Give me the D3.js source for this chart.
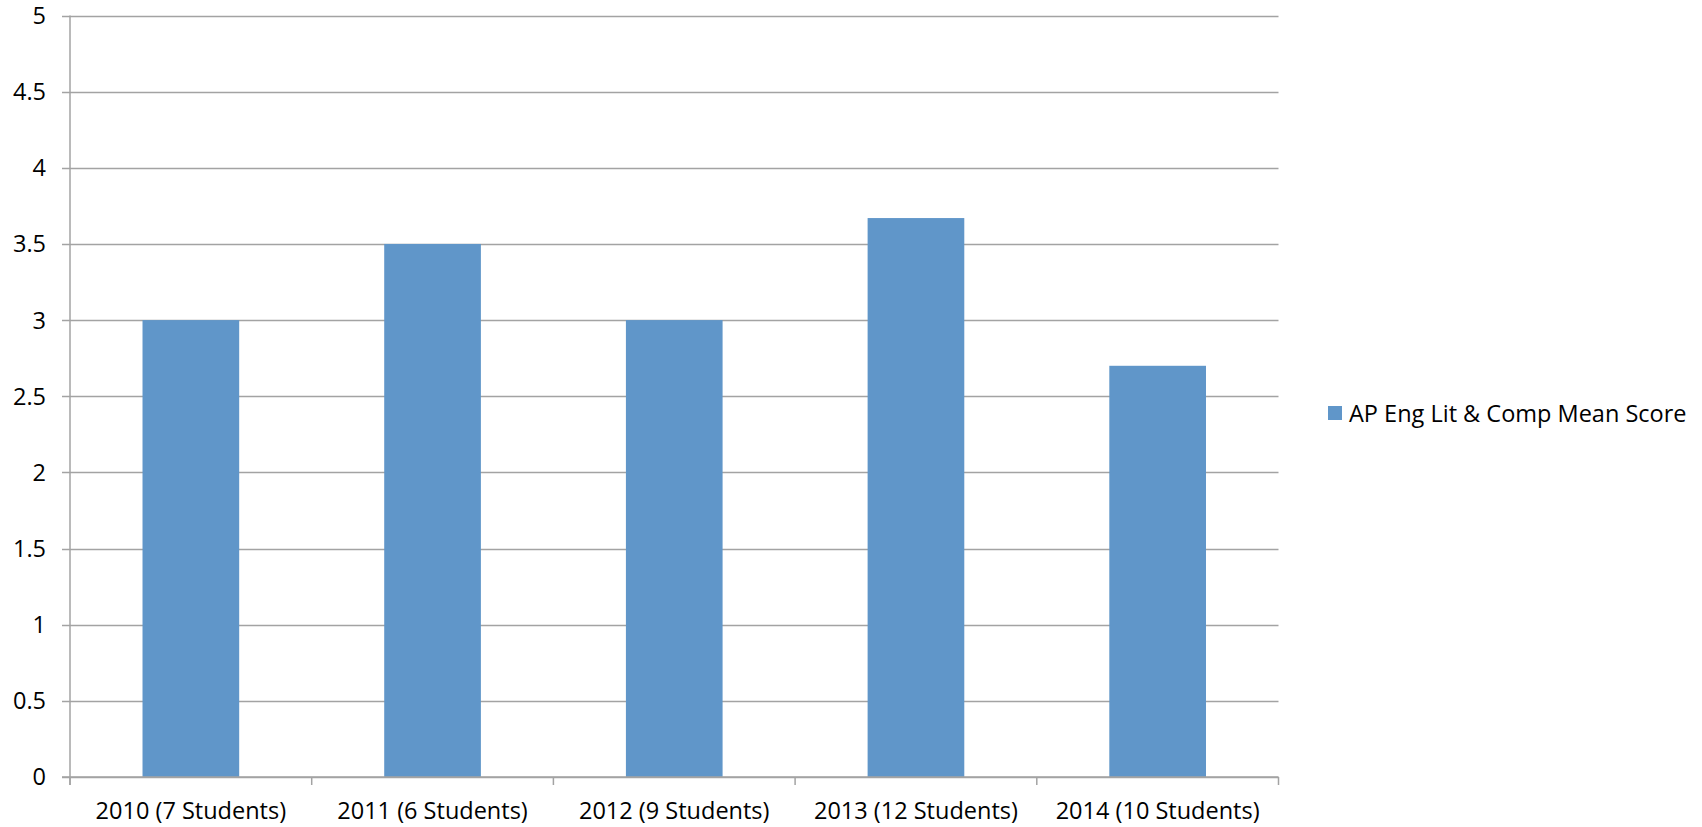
<!DOCTYPE html>
<html>
<head>
<meta charset="utf-8">
<script src="https://cdn.jsdelivr.net/npm/d3@7"></script>
<style>
  html, body { margin: 0; padding: 0; background: #fff; }
  svg text { font-family: "Open Sans", "Noto Sans", sans-serif; fill: #000; }
</style>
</head>
<body>
<svg id="chart" width="1702" height="827"></svg>
<script>
const categories = ["2010 (7 Students)", "2011 (6 Students)", "2012 (9 Students)", "2013 (12 Students)", "2014 (10 Students)"];
const meanScores = [3, 3.5, 3, 3.67, 2.7];
const yTickValues = [0, 0.5, 1, 1.5, 2, 2.5, 3, 3.5, 4, 4.5, 5];
const yTickLabels = ["0", "0.5", "1", "1.5", "2", "2.5", "3", "3.5", "4", "4.5", "5"];
const seriesName = "AP Eng Lit & Comp Mean Score";

(function () {
const svg = d3.select("#chart");
const pLeft = 70, pRight = 1278.5, pTop = 15.5, pBottom = 777;
const fontSize = 23.5;
const gridColor = "#a3a3a3";
const barColor = "#6096c9";

const x = d3.scaleBand().domain(categories).range([pLeft, pRight]).paddingInner(0.6).paddingOuter(0.3);
const xb = d3.scaleBand().domain(categories).range([pLeft, pRight]).padding(0);
const y = d3.scaleLinear().domain([0, 5]).range([pBottom, pTop]);

// gridlines
svg.append("g").selectAll("line").data(yTickValues).join("line")
  .attr("x1", pLeft - 8).attr("x2", pRight)
  .attr("y1", d => Math.round(y(d)) + 0.5).attr("y2", d => Math.round(y(d)) + 0.5)
  .attr("stroke", gridColor).attr("stroke-width", 1.5);

// y labels
svg.append("g").selectAll("text").data(yTickValues).join("text")
  .attr("x", pLeft - 24).attr("y", d => y(d))
  .attr("dy", "0.36em")
  .attr("text-anchor", "end")
  .style("font-size", fontSize + "px")
  .text((d, i) => yTickLabels[i]);

// bars
svg.append("g").selectAll("rect").data(meanScores).join("rect")
  .attr("x", (d, i) => x(categories[i]))
  .attr("width", x.bandwidth())
  .attr("y", d => y(d))
  .attr("height", d => y(0) - y(d))
  .attr("fill", barColor);

// y axis line
svg.append("line").attr("x1", pLeft).attr("x2", pLeft).attr("y1", pTop).attr("y2", pBottom + 8)
  .attr("stroke", gridColor).attr("stroke-width", 1.5);
// x axis line
svg.append("line").attr("x1", pLeft - 8).attr("x2", pRight).attr("y1", pBottom).attr("y2", pBottom)
  .attr("stroke", gridColor).attr("stroke-width", 1.5);

// x ticks at category boundaries
const boundaries = categories.map(c => xb(c)).concat([pRight]);
svg.append("g").selectAll("line").data(boundaries).join("line")
  .attr("x1", d => d).attr("x2", d => d)
  .attr("y1", pBottom).attr("y2", pBottom + 8)
  .attr("stroke", gridColor).attr("stroke-width", 1.5);

// x labels
svg.append("g").selectAll("text").data(categories).join("text")
  .attr("x", d => xb(d) + xb.bandwidth() / 2)
  .attr("y", 819)
  .attr("text-anchor", "middle")
  .style("font-size", fontSize + "px")
  .text(d => d);

// legend
const lg = svg.append("g");
lg.append("rect").attr("x", 1328).attr("y", 406).attr("width", 14).attr("height", 14).attr("fill", barColor);
lg.append("text").attr("x", 1349).attr("y", 422).style("font-size", fontSize + "px").text(seriesName);
})();
</script>
</body>
</html>
